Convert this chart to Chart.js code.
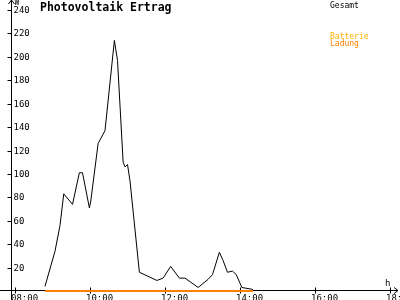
<!DOCTYPE html>
<html lang="de">
<head>
<meta charset="UTF-8">
<title>Photovoltaik Ertrag</title>
<style>
  html, body { margin: 0; padding: 0; background: #fff; }
  canvas { display: block; }
</style>
</head>
<body>
<canvas id="myChart" width="400" height="300"></canvas>
<script src="https://cdn.jsdelivr.net/npm/chart.js"></script>
<script>
// Gesamt (W) - Zeitpunkte und Werte
const v_times = ["08:48","09:04","09:12","09:18","09:32","09:43","09:48","09:59","10:01","10:13","10:21","10:24","10:39",
                 "10:44","10:53","10:56","11:00","11:04","11:19","11:47","11:57","12:09","12:23","12:32","12:53",
                 "13:09","13:16","13:27","13:33","13:40","13:48","13:54","14:03","14:19","14:21"];
const v_gesamt = [4, 34, 56, 83, 74, 101, 101, 71, 76, 126, 134, 137, 214,
                  197, 110, 106, 108, 94, 16, 9, 11, 21, 11, 11, 3,
                  10, 14, 33, 26, 16, 17, 14, 3, 1.5, 1];
// Ladung (W)
const v_ladungTimes = ["08:48", "14:21"];
const v_ladung = [0, 0];

const v_yTicks = [20, 40, 60, 80, 100, 120, 140, 160, 180, 200, 220, 240];
const v_xTicks = ["08:00", "10:00", "12:00", "14:00", "16:00", "18:00"];

function f_hours(p_str) {
    let v_p = p_str.split(":");
    return Number(v_p[0]) + Number(v_p[1]) / 60;
}

const axesPlugin = {
    id: "axes",
    beforeDatasetsDraw(chart) {
        const c = chart.ctx;
        const x = chart.scales.x;
        const y = chart.scales.y;
        const x0 = Math.round(x.left) + 0.5;
        const y0 = 290.5;
        c.save();
        c.strokeStyle = "#000";
        c.fillStyle = "#000";
        c.lineWidth = 1;
        c.beginPath();
        // y axis + arrow
        c.moveTo(x0, 300); c.lineTo(x0, 0);
        c.moveTo(x0 - 3, 4); c.lineTo(x0, 0); c.lineTo(x0 + 3, 4);
        // x axis + arrow
        c.moveTo(0, y0); c.lineTo(398, y0);
        c.moveTo(394, y0 - 3); c.lineTo(398, y0); c.lineTo(394, y0 + 3);
        // tick marks
        v_yTicks.forEach(v => {
            let py = Math.round(y.getPixelForValue(v)) + 0.5;
            c.moveTo(x0 - 4, py); c.lineTo(x0, py);
        });
        v_xTicks.forEach(t => {
            let px = Math.round(x.getPixelForValue(f_hours(t))) + 0.5;
            c.moveTo(px, y0 - 3); c.lineTo(px, y0 + 3);
        });
        c.stroke();

        c.font = "9px 'DejaVu Sans Mono'";
        c.textBaseline = "middle";
        c.textAlign = "left";
        v_yTicks.forEach(v => {
            c.fillText(String(v), x0 + 2, Math.round(y.getPixelForValue(v)) + 0.5);
        });
        c.textBaseline = "top";
        v_xTicks.forEach(t => {
            c.fillText(t, Math.round(x.getPixelForValue(f_hours(t))) - 4, y0 + 4);
        });
        c.textBaseline = "alphabetic";
        c.fillText("h", 385, 286);
        c.font = "8px 'DejaVu Sans Mono'";
        c.fillText("W", x0 + 3, 5);

        // title
        c.font = "bold 11.5px 'DejaVu Sans Mono'";
        c.fillText("Photovoltaik Ertrag", 40, 11);

        // legend
        c.font = "8px 'DejaVu Sans Mono'";
        c.fillStyle = "#000";
        c.fillText("Gesamt", 330, 8);
        c.fillStyle = "#FFB000";
        c.fillText("Batterie", 330, 39);
        c.fillStyle = "#FF8000";
        c.fillText("Ladung", 330, 46);
        c.restore();
    }
};

const ctx = document.getElementById("myChart");
const myChart = new Chart(ctx, {
    type: "line",
    data: {
        datasets: [{
            label: "Gesamt",
            data: v_times.map((t, i) => ({ x: f_hours(t), y: v_gesamt[i] })),
            borderColor: "#000",
            borderWidth: 1,
            pointRadius: 0,
            tension: 0,
            clip: false,
            order: 2
        }, {
            label: "Ladung",
            data: v_ladungTimes.map((t, i) => ({ x: f_hours(t), y: v_ladung[i] })),
            borderColor: "#FF8000",
            borderWidth: 2,
            pointRadius: 0,
            tension: 0,
            clip: false,
            order: 1
        }]
    },
    options: {
        responsive: false,
        animation: false,
        events: [],
        layout: { padding: { left: 11, right: 0, top: 10, bottom: 9 } },
        plugins: { legend: { display: false }, title: { display: false }, tooltip: { enabled: false } },
        scales: {
            x: { type: "linear", min: 7.893, max: 18.267, display: false },
            y: { min: 0, max: 240, display: false }
        }
    },
    plugins: [axesPlugin]
});
</script>
</body>
</html>
